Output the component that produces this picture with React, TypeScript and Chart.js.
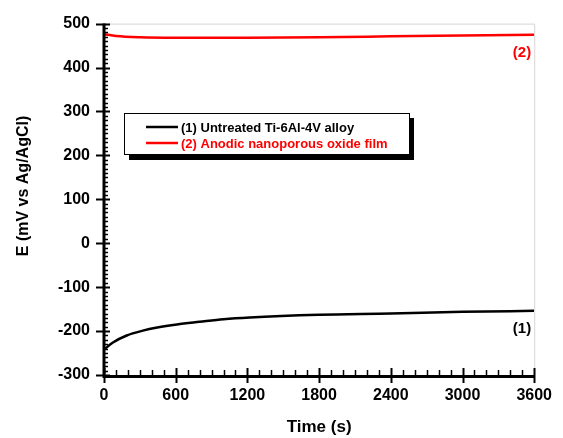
import React, { useEffect, useRef } from "react";
import { Chart, registerables } from "chart.js";

Chart.register(...registerables);

// ---- data ----
const untreatedTime = [0, 75, 190, 325, 445, 610, 800, 1000, 1220, 1800, 2400, 3000, 3600];
const untreatedE = [-242, -226, -210, -199, -192, -185, -179, -173, -169, -163, -160, -156, -154];
const anodicTime = [0, 100, 300, 600, 900, 1200, 1800, 2400, 3000, 3600];
const anodicE = [476, 472, 469, 468, 468, 468, 469, 471, 473, 474.5];
const seriesLabels = ["(1) Untreated Ti-6Al-4V alloy", "(2) Anodic nanoporous oxide film"];
const curveTags = ["(1)", "(2)"];
const seriesColors = ["#000000", "#ff0000"];
const xTitle = "Time (s)";
const yTitle = "E (mV vs Ag/AgCl)";
const xMin = 0, xMax = 3600, xMajor = 600, xMinor = 100;
const yMin = -300, yMax = 500, yMajor = 100, yMinor = 10;

const FONT = "Arial, 'Liberation Sans', sans-serif";

const decor = {
  id: "decor",
  afterDraw(chart: any) {
    const { ctx, chartArea: a, scales } = chart;
    const xs = scales.x, ys = scales.y;
    ctx.save();
    // light frame top/right
    ctx.strokeStyle = "#d6d6d6";
    ctx.lineWidth = 1;
    ctx.beginPath();
    ctx.moveTo(a.left, a.top + 0.5);
    ctx.lineTo(a.right + 0.5, a.top + 0.5);
    ctx.lineTo(a.right + 0.5, a.bottom);
    ctx.stroke();

    // y ticks
    ctx.strokeStyle = "#000";
    for (let v = yMin; v <= yMax; v += yMinor) {
      const p = Math.round(ys.getPixelForValue(v)) + 0.5;
      ctx.beginPath();
      if (v % yMajor === 0) {
        ctx.lineWidth = 2;
        ctx.moveTo(a.left - 8, p);
        ctx.lineTo(a.left + 6, p);
      } else {
        ctx.lineWidth = 1.5;
        ctx.moveTo(a.left, p);
        ctx.lineTo(a.left + 4, p);
      }
      ctx.stroke();
    }
    // x ticks
    for (let t = xMin; t <= xMax; t += xMinor) {
      const p = Math.round(xs.getPixelForValue(t)) + 0.5;
      ctx.beginPath();
      if (t % xMajor === 0) {
        ctx.lineWidth = 2;
        ctx.moveTo(p, a.bottom - 7);
        ctx.lineTo(p, a.bottom + 8);
      } else {
        ctx.lineWidth = 1.5;
        ctx.moveTo(p, a.bottom - 5);
        ctx.lineTo(p, a.bottom);
      }
      ctx.stroke();
    }
    // axis lines
    ctx.lineWidth = 3;
    ctx.beginPath();
    ctx.moveTo(a.left, a.top);
    ctx.lineTo(a.left, a.bottom + 1.5);
    ctx.lineTo(a.right, a.bottom + 1.5);
    ctx.stroke();

    // axis titles
    ctx.fillStyle = "#000";
    ctx.font = `bold 17px ${FONT}`;
    ctx.textAlign = "center";
    ctx.textBaseline = "middle";
    ctx.fillText(xTitle, (a.left + a.right) / 2, 427);
    ctx.save();
    ctx.translate(24, 186);
    ctx.rotate(-Math.PI / 2);
    ctx.font = `bold 16px ${FONT}`;
    ctx.fillText(yTitle, 0, 0);
    ctx.restore();

    // curve tags
    ctx.font = `bold 15px ${FONT}`;
    ctx.textAlign = "right";
    const lastX = xs.getPixelForValue(xMax) - 3;
    ctx.fillStyle = seriesColors[0];
    ctx.fillText(curveTags[0], lastX, ys.getPixelForValue(untreatedE[untreatedE.length - 1]) + 18);
    ctx.fillStyle = seriesColors[1];
    ctx.fillText(curveTags[1], lastX, ys.getPixelForValue(anodicE[anodicE.length - 1]) + 18);

    // legend box with shadow
    const bx = 124, by = 113, bw = 285, bh = 41;
    ctx.fillStyle = "#000";
    ctx.fillRect(bx + 5, by + 5, bw, bh + 1);
    ctx.fillStyle = "#fff";
    ctx.fillRect(bx, by, bw, bh);
    ctx.strokeStyle = "#000";
    ctx.lineWidth = 1;
    ctx.strokeRect(bx + 0.5, by + 0.5, bw, bh);
    ctx.font = `bold 13px ${FONT}`;
    ctx.textAlign = "left";
    seriesLabels.forEach((lab, i) => {
      const ly = by + 14 + i * 16;
      ctx.strokeStyle = seriesColors[i];
      ctx.lineWidth = 2.5;
      ctx.beginPath();
      ctx.moveTo(bx + 22, ly);
      ctx.lineTo(bx + 54, ly);
      ctx.stroke();
      ctx.fillStyle = seriesColors[i];
      ctx.fillText(lab, bx + 57, ly + 1);
    });
    ctx.restore();
  },
};

export default function App() {
  const ref = useRef<HTMLCanvasElement | null>(null);
  useEffect(() => {
    if (!ref.current) return;
    const tickFont = { family: FONT, size: 16, weight: "bold" as const };
    const plain = (v: any) => String(v);
    const chart = new Chart(ref.current, {
      type: "line",
      data: {
        datasets: [
          {
            label: seriesLabels[0],
            data: untreatedTime.map((t, i) => ({ x: t, y: untreatedE[i] })),
            borderColor: seriesColors[0],
            borderWidth: 2.5,
            pointRadius: 0,
            cubicInterpolationMode: "monotone",
            fill: false,
          },
          {
            label: seriesLabels[1],
            data: anodicTime.map((t, i) => ({ x: t, y: anodicE[i] })),
            borderColor: seriesColors[1],
            borderWidth: 2.5,
            pointRadius: 0,
            cubicInterpolationMode: "monotone",
            fill: false,
          },
        ],
      },
      options: {
        responsive: false,
        animation: false,
        devicePixelRatio: 1,
        layout: { padding: { top: 21, right: 28, left: 0, bottom: 0 } },
        plugins: { legend: { display: false }, tooltip: { enabled: false } },
        scales: {
          x: {
            type: "linear",
            min: xMin,
            max: xMax,
            grid: { display: false, drawTicks: false },
            border: { display: false },
            ticks: { stepSize: xMajor, font: tickFont, color: "#000", padding: 11, maxRotation: 0, autoSkip: false, callback: plain },
            afterFit: (s: any) => { s.height = 63; },
          },
          y: {
            type: "linear",
            min: yMin,
            max: yMax,
            grid: { display: false, drawTicks: false },
            border: { display: false },
            ticks: { stepSize: yMajor, font: tickFont, color: "#000", padding: 14, callback: plain },
            afterFit: (s: any) => { s.width = 104; },
          },
        },
      },
      plugins: [decor],
    });
    return () => chart.destroy();
  }, []);
  return (
    <div style={{ position: "fixed", left: 0, top: 0, width: 563, height: 438, background: "#fff" }}>
      <canvas ref={ref} width={563} height={438} style={{ display: "block" }} />
    </div>
  );
}
